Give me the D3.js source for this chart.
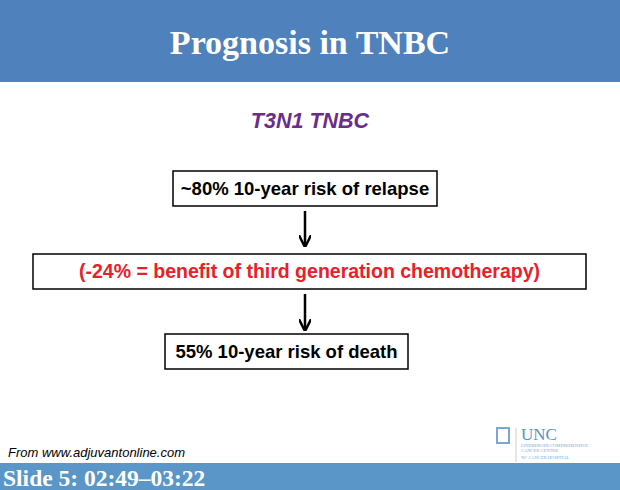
<!DOCTYPE html><html><head><meta charset="utf-8"><script src="https://cdn.jsdelivr.net/npm/d3@7"></script>
<style>body{margin:0}</style></head><body><svg id="s" width="620" height="490"></svg><script>
const title="Prognosis in TNBC";
const subtitle="T3N1 TNBC";
const boxLabels=["~80% 10-year risk of relapse","(-24% = benefit of third generation chemotherapy)","55% 10-year risk of death"];
const boxColors=["#000","#e8202a","#000"];
const source="From www.adjuvantonline.com";
const footer="Slide 5: 02:49\u201303:22";
const svg=d3.select("#s");
svg.append("rect").attr("width",620).attr("height",490).attr("fill","#fff");
svg.append("rect").attr("width",620).attr("height",82).attr("fill","#4f81bd");
svg.append("text").attr("x",310).attr("y",54).attr("text-anchor","middle").attr("fill","#fff").attr("font-family","Liberation Serif").attr("font-weight","bold").attr("font-size",34).text(title);
svg.append("text").attr("x",310).attr("y",128).attr("text-anchor","middle").attr("fill","#6b2d8a").attr("font-family","Liberation Sans").attr("font-weight","bold").attr("font-style","italic").attr("font-size",21.5).text(subtitle);
const ys=[171,254,334], xs=[[173,437],[33,586],[165,408]];
boxLabels.forEach((t,i)=>{
 svg.append("rect").attr("x",xs[i][0]).attr("y",ys[i]).attr("width",xs[i][1]-xs[i][0]).attr("height",35).attr("fill","#fff").attr("stroke","#000").attr("stroke-width",1.5);
 svg.append("text").attr("x",(xs[i][0]+xs[i][1])/2).attr("y",ys[i]+24).attr("text-anchor","middle").attr("fill",boxColors[i]).attr("font-family","Liberation Sans").attr("font-weight","bold").attr("font-size",i==1?19.5:18.5).text(t);
});
svg.append("defs").append("marker").attr("id","a").attr("viewBox","0 0 10 10").attr("refX",9).attr("refY",5).attr("markerWidth",5).attr("markerHeight",5).attr("orient","auto").append("path").attr("d","M0,0L10,5L0,10").attr("fill","none").attr("stroke","#000").attr("stroke-width",2);
[[305,211,246],[305,294,330]].forEach(a=>svg.append("line").attr("x1",a[0]).attr("x2",a[0]).attr("y1",a[1]).attr("y2",a[2]).attr("stroke","#000").attr("stroke-width",2.5).attr("marker-end","url(#a)"));
svg.append("text").attr("x",8).attr("y",457).attr("font-family","Liberation Sans").attr("font-style","italic").attr("font-size",13).text(source);
svg.append("rect").attr("x",497).attr("y",428).attr("width",12).attr("height",15).attr("fill","none").attr("stroke","#7aa7d4").attr("stroke-width",2);
svg.append("line").attr("x1",516).attr("x2",516).attr("y1",428).attr("y2",462).attr("stroke","#ccc");
svg.append("text").attr("x",521).attr("y",440).attr("fill","#5b8fc6").attr("font-family","Liberation Serif").attr("font-size",17).text("UNC");
[["LINEBERGER COMPREHENSIVE",447],["CANCER CENTER",452],["NC CANCER HOSPITAL",459]].forEach(d=>svg.append("text").attr("x",521).attr("y",d[1]).attr("fill","#7aa7d4").attr("font-family","Liberation Serif").attr("font-size",4.5).text(d[0]));
svg.append("rect").attr("y",463).attr("width",620).attr("height",27).attr("fill","#5a96c8");
svg.append("text").attr("x",3).attr("y",486).attr("fill","#fff").attr("font-family","Liberation Serif").attr("font-weight","bold").attr("font-size",23.5).text(footer);
</script></body></html>
